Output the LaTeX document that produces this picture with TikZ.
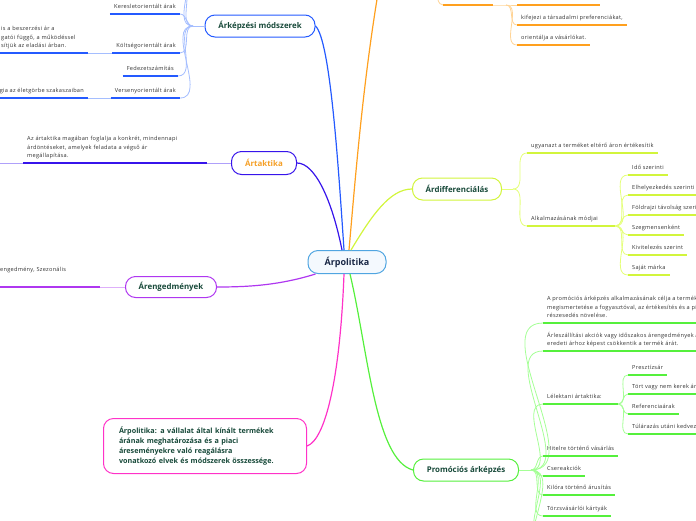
\documentclass[tikz,border=0pt]{standalone}
\usepackage{fontspec}
\setmainfont{Open Sans}
\usetikzlibrary{positioning}

\definecolor{topictext}{RGB}{24,74,58}
\definecolor{roottext}{RGB}{26,40,70}
\definecolor{leaftext}{RGB}{50,50,50}
\definecolor{rootline}{RGB}{80,165,225}
\definecolor{rootfill}{RGB}{244,249,254}
\definecolor{bluedark}{RGB}{36,90,255}
\definecolor{bluelight}{RGB}{165,190,255}
\definecolor{orangedark}{RGB}{255,160,30}
\definecolor{orangelight}{RGB}{255,212,150}
\definecolor{violetdark}{RGB}{55,20,235}
\definecolor{violetlight}{RGB}{175,160,250}
\definecolor{taktikatext}{RGB}{245,160,40}
\definecolor{purpledark}{RGB}{175,55,240}
\definecolor{purplelight}{RGB}{222,175,250}
\definecolor{yellowdark}{RGB}{210,245,60}
\definecolor{yellowlight}{RGB}{228,255,120}
\definecolor{greendark}{RGB}{85,240,60}
\definecolor{greenlight}{RGB}{165,255,150}
\definecolor{magentadark}{RGB}{255,50,200}

\begin{document}
\begin{tikzpicture}[x=1pt, y=-1pt,
    rootbox/.style={draw=rootline, fill=rootfill, rounded corners=10pt, line width=1pt, text=roottext,
      font=\fontsize{9}{11}\selectfont\bfseries, minimum width=78pt, minimum height=23pt},
    topic/.style={draw, rounded corners=10pt, line width=1pt, fill=white, text=topictext,
      font=\fontsize{7.9}{9}\selectfont\bfseries, minimum height=22pt, inner xsep=0pt},
    leaf/.style={text=leaftext, font=\fontsize{5.6}{8.6}\selectfont\addfontfeature{LetterSpace=5},
      align=left, inner xsep=4pt, inner ysep=2.5pt, execute at end node=\strut},
    uline/.style={line width=1.7pt},
    link/.style={line width=0.8pt},
    trunk/.style={line width=1.2pt}]
  \useasboundingbox (0,0) rectangle (696,520);

  % central topic and main branches
  \node[rootbox] (root) at (347,262) {Árpolitika};
  \node[topic, draw=bluedark, minimum width=110pt] (ark) at (260,26) {Árképzési módszerek};
  \node[topic, draw=violetdark, text=taktikatext, minimum width=65pt, minimum height=23pt] (art) at (264,163) {Ártaktika};
  \node[topic, draw=purpledark, minimum width=91pt, minimum height=21pt] (eng) at (171,287) {Árengedmények};
  \node[topic, draw=yellowdark, minimum width=89pt] (dif) at (457,189) {Árdifferenciálás};
  \node[topic, draw=greendark, minimum width=105pt] (pro) at (466,470) {Promóciós árképzés};
  \node[topic, draw=magentadark, minimum height=55pt, text width=172pt, align=left,
    font=\fontsize{7.2}{10}\selectfont\bfseries, inner xsep=15.5pt] (def) at (205,446)
    {Árpolitika: a vállalat által kínált termékek\\árának meghatározása és a piaci\\áreseményekre való reagálásra\\vonatkozó elvek és módszerek összessége.};
  \coordinate (orangeup) at (382,-30);

  \draw[trunk, bluedark] ([xshift=-3pt]root.north) .. controls (338,160) and (330,40) .. (ark.east);
  \draw[trunk, orangedark] ([xshift=2pt]root.north) .. controls (356,170) and (364,70) .. (orangeup);
  \draw[trunk, violetdark] ([xshift=-5pt]root.north) .. controls (332,200) and (315,163) .. (art.east);
  \draw[trunk, yellowdark] ([xshift=4pt]root.north) .. controls (372,215) and (390,189) .. (dif.west);
  \draw[trunk, purpledark] ([xshift=8pt]root.south west) .. controls (280,285) and (250,287) .. (eng.east);
  \draw[trunk, magentadark] ([xshift=-3pt]root.south) .. controls (340,380) and (325,440) .. (def.east);
  \draw[trunk, greendark] ([xshift=3pt]root.south) .. controls (368,350) and (375,460) .. (pro.west);

  % Árképzési módszerek
  \node[leaf, anchor=south east] (ker) at (180,14) {Keresletorientált árak};
  \node[leaf, anchor=south east] (kol) at (180,53) {Költségorientált árak};
  \node[leaf, anchor=south east] (fed) at (178,76) {Fedezetszámítás};
  \node[leaf, anchor=south east] (ver) at (180,98) {Versenyorientált árak};
  \node[leaf, anchor=south west, text width=83pt] (kold) at (-3,53) {is a beszerzési ár a\\gatói függő, a működéssel\\sítjük az eladási árban.};
  \node[leaf, anchor=south east] (verd) at (88,98) {gia az életgörbe szakaszaiban};
  \coordinate (arkj) at (193,26);
  \coordinate (arkup1) at (180,-14);
  \coordinate (arkup2) at (180,-36);
  \draw[link, bluelight] (ark.west) -- (arkj);
  \foreach \n in {ker,kol,fed,ver}
    \draw[link, bluelight] (arkj) to[out=180, in=0] (\n.south east);
  \foreach \n in {arkup1,arkup2}
    \draw[link, bluelight] (arkj) to[out=180, in=0] (\n);
  \draw[link, bluelight] (kol.south west) -- (kold.south east);
  \draw[link, bluelight] (ver.south west) -- (verd.south east);
  \foreach \n in {ker,kol,fed,ver,kold,verd}
    \draw[uline, bluedark] (\n.south west) -- (\n.south east);

  % orange branch (its topic lies above the page)
  \coordinate (ouup) at (432,-24);
  \coordinate (oua) at (443,5);
  \coordinate (oub) at (493,5);
  \coordinate (oj) at (506,5);
  \coordinate (o1a) at (517,5);
  \coordinate (o1b) at (600,5);
  \node[leaf, anchor=south west] (kif) at (517,25) {kifejezi a társadalmi preferenciákat,};
  \node[leaf, anchor=south west] (ori) at (517,45) {orientálja a vásárlókat.};
  \draw[link, orangelight] (ouup) .. controls (437,-2) and (438,5) .. (oua);
  \draw[link, orangelight] (oub) -- (oj) -- (o1a);
  \foreach \n in {kif,ori}
    \draw[link, orangelight] (oj) to[out=0, in=180] (\n.south west);
  \draw[uline, orangedark] (oua) -- (oub);
  \draw[uline, orangedark] (o1a) -- (o1b);
  \foreach \n in {kif,ori}
    \draw[uline, orangedark] (\n.south west) -- (\n.south east);

  % Ártaktika
  \node[leaf, anchor=south west, text width=176pt] (artd) at (23,163)
    {Az ártaktika magában foglalja a konkrét, mindennapi\\árdöntéseket, amelyek feladata a végső ár\\megállapítása.};
  \coordinate (artoff) at (-5,163);
  \draw[link, violetlight] (art.west) -- (artd.south east);
  \draw[link, violetlight] (artd.south west) -- (artoff);
  \draw[uline, violetdark] (artd.south west) -- (artd.south east);

  % Árengedmények
  \node[leaf, anchor=south west, text width=96pt, minimum height=34pt] (engd) at (-4,287) {engedmény, Szezonális};
  \draw[link, purplelight] (eng.west) -- (engd.south east);
  \draw[uline, purpledark] (engd.south west) -- (engd.south east);

  % Árdifferenciálás
  \node[leaf, anchor=south west] (ugy) at (527,153) {ugyanazt a terméket eltérő áron értékesítik};
  \node[leaf, anchor=south west, text width=80pt] (alk) at (527,226) {Alkalmazásának módjai};
  \node[leaf, anchor=south west] (ido) at (628,175) {Idő szerinti};
  \node[leaf, anchor=south west] (elh) at (628,195) {Elhelyezkedés szerinti};
  \node[leaf, anchor=south west] (fol) at (628,215) {Földrajzi távolság szerint};
  \node[leaf, anchor=south west] (szeg) at (628,235) {Szegmensenként};
  \node[leaf, anchor=south west] (kiv) at (628,255) {Kivitelezés szerint};
  \node[leaf, anchor=south west] (saj) at (628,275) {Saját márka};
  \coordinate (difj) at (513,189);
  \draw[link, yellowlight] (dif.east) -- (difj);
  \foreach \n in {ugy,alk}
    \draw[link, yellowlight] (difj) to[out=0, in=180] (\n.south west);
  \foreach \n in {ido,elh,fol,szeg,kiv,saj}
    \draw[link, yellowlight] (alk.south east) to[out=0, in=180] (\n.south west);
  \foreach \n in {ugy,alk,ido,elh,fol,szeg,kiv,saj}
    \draw[uline, yellowdark] (\n.south west) -- (\n.south east);

  % Promóciós árképzés
  \node[leaf, anchor=south west] (cel) at (543,323)
    {A promóciós árképzés alkalmazásának célja a termék\\megismertetése a fogyasztóval, az értékesítés és a piaci\\részesedés növelése.};
  \node[leaf, anchor=south west] (les) at (543,351)
    {Árleszállítási akciók vagy időszakos árengedmények az\\eredeti árhoz képest csökkentik a termék árát.};
  \node[leaf, anchor=south west, text width=67pt] (lel) at (543,404) {Lélektani ártaktika:};
  \node[leaf, anchor=south west] (pre) at (628,375) {Presztízsár};
  \node[leaf, anchor=south west] (tor) at (628,394) {Tört vagy nem kerek árak};
  \node[leaf, anchor=south west] (ref) at (628,414) {Referenciaárak};
  \node[leaf, anchor=south west] (tul) at (628,434) {Túlárazás utáni kedvezmény};
  \node[leaf, anchor=south west] (hit) at (543,456) {Hitelre történő vásárlás};
  \node[leaf, anchor=south west] (cse) at (543,476) {Csereakciók};
  \node[leaf, anchor=south west] (kil) at (543,495) {Kilóra történő árusítás};
  \node[leaf, anchor=south west] (tv) at (543,516) {Törzsvásárlói kártyák};
  \coordinate (proj) at (531,470);
  \coordinate (prodown1) at (543,538);
  \coordinate (prodown2) at (543,560);
  \draw[link, greenlight] (pro.east) -- (proj);
  \foreach \n in {cel,les,lel,hit,cse,kil,tv}
    \draw[link, greenlight] (proj) to[out=0, in=180] (\n.south west);
  \foreach \n in {prodown1,prodown2}
    \draw[link, greenlight] (proj) to[out=0, in=180] (\n);
  \foreach \n in {pre,tor,ref,tul}
    \draw[link, greenlight] (lel.south east) to[out=0, in=180] (\n.south west);
  \foreach \n in {cel,les,lel,pre,tor,ref,tul,hit,cse,kil,tv}
    \draw[uline, greendark] (\n.south west) -- (\n.south east);
\end{tikzpicture}
\end{document}
